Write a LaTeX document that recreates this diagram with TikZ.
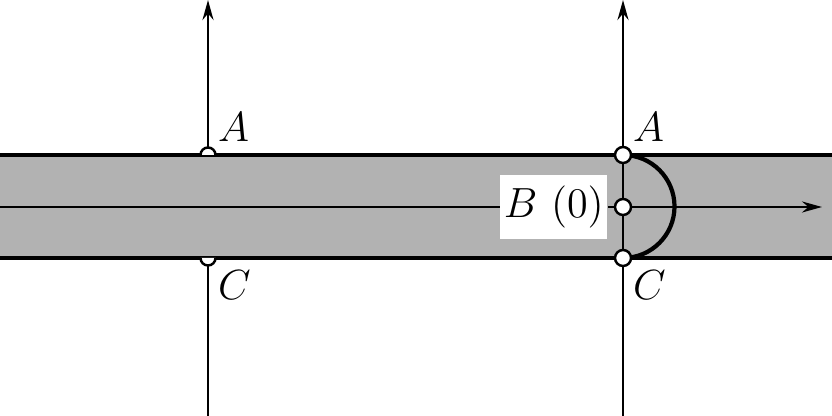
\documentclass[tikz,border=0pt]{standalone}
\usetikzlibrary{arrows.meta,positioning,calc}
\begin{document}
\begin{tikzpicture}[x=1cm,y=1cm,font=\large,
  dot/.style={draw,fill=white,circle,inner sep=0pt,minimum size=0.16cm,line width=0.7pt},
  axis/.style={line width=0.75pt,-{Stealth[length=0.2cm,width=0.11cm]}},
  edge/.style={line width=1.05pt}]
\useasboundingbox (0,0) rectangle (8.32,4.16);
\fill[black!30] (0,1.58) rectangle (8.32,2.61);
% left crossing
\coordinate (Ltop) at (2.08,2.61);
\coordinate (Lbot) at (2.08,1.58);
\coordinate (Lend) at (2.08,0);
\coordinate (Lup) at (2.08,4.16);
\draw[axis] (Lend) -- (Lbot) (Ltop) -- (Lup);
\draw[edge] (0,2.61) -- (8.32,2.61) (0,1.58) -- (8.32,1.58);
\filldraw[fill=white,line width=0.7pt] ($(Ltop)+(0.075,0)$) arc (0:180:0.075);
\filldraw[fill=white,line width=0.7pt] ($(Lbot)+(-0.075,0)$) arc (180:360:0.075);
\node[anchor=south west,inner sep=1pt] (LA) at (2.14,2.7) {$A$};
\node[anchor=north west,inner sep=1pt] (LC) at (2.14,1.5) {$C$};
% right crossing
\coordinate (Rend) at (6.23,0);
\coordinate (Rup) at (6.23,4.16);
\coordinate (Mstart) at (0,2.09);
\coordinate (Mend) at (8.22,2.09);
\draw[line width=0.75pt] (Mstart) -- (5.1,2.09);
\node[fill=white,anchor=east,inner xsep=1pt,inner ysep=3pt] (Blab) at (6.08,2.09) {$B\ (0)$};
\draw[axis] (Blab.east) -- (Mend);
\draw[axis] (Rend) -- (Rup);
\draw[line width=1.2pt] (6.23,2.61) arc (90:-90:0.515);
\node[dot] (A) at (6.23,2.61) {};
\node[dot] (B) at (6.23,2.09) {};
\node[dot] (C) at (6.23,1.58) {};
\node[anchor=south west,inner sep=1pt] (RA) at (6.29,2.7) {$A$};
\node[anchor=north west,inner sep=1pt] (RC) at (6.29,1.5) {$C$};
\end{tikzpicture}
\end{document}
